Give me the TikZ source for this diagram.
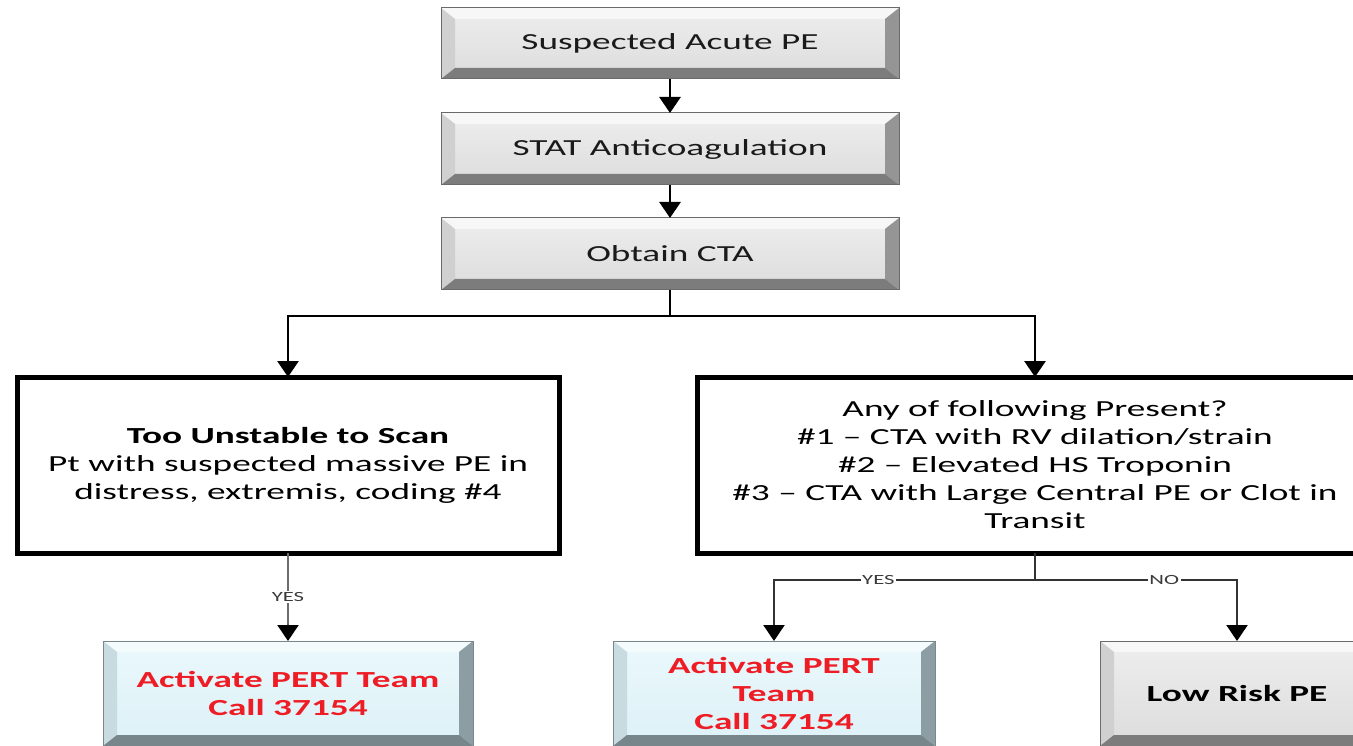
\documentclass[tikz,border=0pt]{standalone}
\usepackage{fontspec}
\setmainfont{Carlito}[FakeStretch=1.62]
\usetikzlibrary{arrows.meta,calc}

\definecolor{gFaceT}{HTML}{EEEEEE}
\definecolor{gFaceB}{HTML}{DCDCDC}
\definecolor{gTop}{HTML}{F7F7F7}
\definecolor{gLeft}{HTML}{D0D0D0}
\definecolor{gRight}{HTML}{959595}
\definecolor{gBot}{HTML}{7C7C7C}
\definecolor{gLine}{HTML}{6A6A6A}
\definecolor{bFaceT}{HTML}{EAF8FC}
\definecolor{bFaceB}{HTML}{DDF1F7}
\definecolor{bTop}{HTML}{F4FBFD}
\definecolor{bLeft}{HTML}{C8DBE0}
\definecolor{bRight}{HTML}{8C9EA3}
\definecolor{bBot}{HTML}{76868B}
\definecolor{bLine}{HTML}{7A888C}
\definecolor{txtDark}{HTML}{1A1A1A}
\definecolor{alertRed}{HTML}{EE1C24}
\definecolor{connGray}{HTML}{333333}
\definecolor{lblGray}{HTML}{3A3A3A}

% bevelled edges of a button-like box: top, left, right, bottom colours
\newcommand\bevelfill[4]{%
  \path (path picture bounding box.north west) coordinate (bvNW)
        (path picture bounding box.north east) coordinate (bvNE)
        (path picture bounding box.south west) coordinate (bvSW)
        (path picture bounding box.south east) coordinate (bvSE);
  \fill[#1] (bvNW) -- (bvNE) -- ($(bvNE)+(-14,-11)$) -- ($(bvNW)+(14,-11)$) -- cycle;
  \fill[#2] (bvNW) -- ($(bvNW)+(14,-11)$) -- ($(bvSW)+(14,11)$) -- (bvSW) -- cycle;
  \fill[#3] (bvNE) -- ($(bvNE)+(-14,-11)$) -- ($(bvSE)+(-14,11)$) -- (bvSE) -- cycle;
  \fill[#4] (bvSW) -- ($(bvSW)+(14,11)$) -- ($(bvSE)+(-14,11)$) -- (bvSE) -- cycle;
}

\tikzset{
  basefont/.style={font=\fontsize{23}{28}\selectfont},
  greybox/.style={basefont, draw=gLine, line width=1pt, top color=gFaceT, bottom color=gFaceB,
    path picture={\bevelfill{gTop}{gLeft}{gRight}{gBot}},
    inner sep=0pt, outer sep=0pt, text=txtDark, align=center},
  bluebox/.style={draw=bLine, line width=1pt, top color=bFaceT, bottom color=bFaceB,
    path picture={\bevelfill{bTop}{bLeft}{bRight}{bBot}},
    inner sep=0pt, outer sep=0pt, align=center, text=alertRed,
    font=\fontsize{23}{28}\selectfont\bfseries},
  lowbox/.style={greybox, text=black, font=\fontsize{23}{28}\selectfont\bfseries},
  decision/.style={basefont, draw=black, line width=5pt, fill=white,
    inner sep=0pt, outer sep=0pt, align=center, text=black},
  arr/.style={-{Triangle[width=21pt,length=16pt]}, line width=2.8pt, draw=black},
  arrg/.style={-{Triangle[width=21pt,length=16pt,color=black]}, line width=2.2pt, draw=connGray},
  lbl/.style={font=\fontsize{14}{16}\selectfont, text=lblGray, fill=white, inner sep=1.5pt}
}

\begin{document}
\begin{tikzpicture}[x=1pt,y=1pt]
\path[use as bounding box, clip] (0,0) rectangle (1353,-746);

% main sequence
\node[greybox, minimum width=458pt, minimum height=71pt] (suspect) at (670,-43.5) {Suspected Acute PE};
\node[greybox, minimum width=458pt, minimum height=72pt] (stat) at (670,-149) {STAT Anticoagulation};
\node[greybox, minimum width=458pt, minimum height=72pt] (cta) at (670,-254) {Obtain CTA};

% decision boxes
\node[decision, minimum width=542pt, minimum height=176pt] (unstable) at (288,-465)
  {\textbf{Too Unstable to Scan}\\Pt with suspected massive PE in\\distress, extremis, coding \#4};
\node[decision, minimum width=676pt, minimum height=176pt] (anyof) at (1035,-465)
  {Any of following Present?\\\#1 – CTA with RV dilation/strain\\\#2 – Elevated HS Troponin\\\#3 – CTA with Large Central PE or Clot in\\Transit};

% outcome boxes
\node[bluebox, minimum width=370pt, minimum height=105pt] (pertL) at (288,-693.5) {Activate PERT Team\\Call 37154};
\node[bluebox, minimum width=322pt, minimum height=105pt] (pertM) at (774,-693.5) {Activate PERT\\Team\\Call 37154};
\node[lowbox, minimum width=274pt, minimum height=105pt] (lowrisk) at (1237,-693.5) {Low Risk PE};

% connectors
\draw[arr] (suspect) -- (stat);
\draw[arr] (stat) -- (cta);
\draw[line width=2.8pt] (cta.south) -- ++(0,-26) coordinate (fork);
\draw[arr] (fork) -| (unstable.north);
\draw[arr] (fork) -| (anyof.north);

\draw[arrg, draw=gray!85!black] (unstable.south) -- node[lbl] {YES} (pertL.north);

\draw[line width=2.2pt, draw=connGray] (anyof.south) -- ++(0,-27) coordinate (split);
\draw[arrg] (split) -| node[lbl, pos=0.3] {YES} (pertM.north);
\draw[arrg] (split) -| node[lbl, pos=0.32] {NO} (lowrisk.north);
\end{tikzpicture}
\end{document}
